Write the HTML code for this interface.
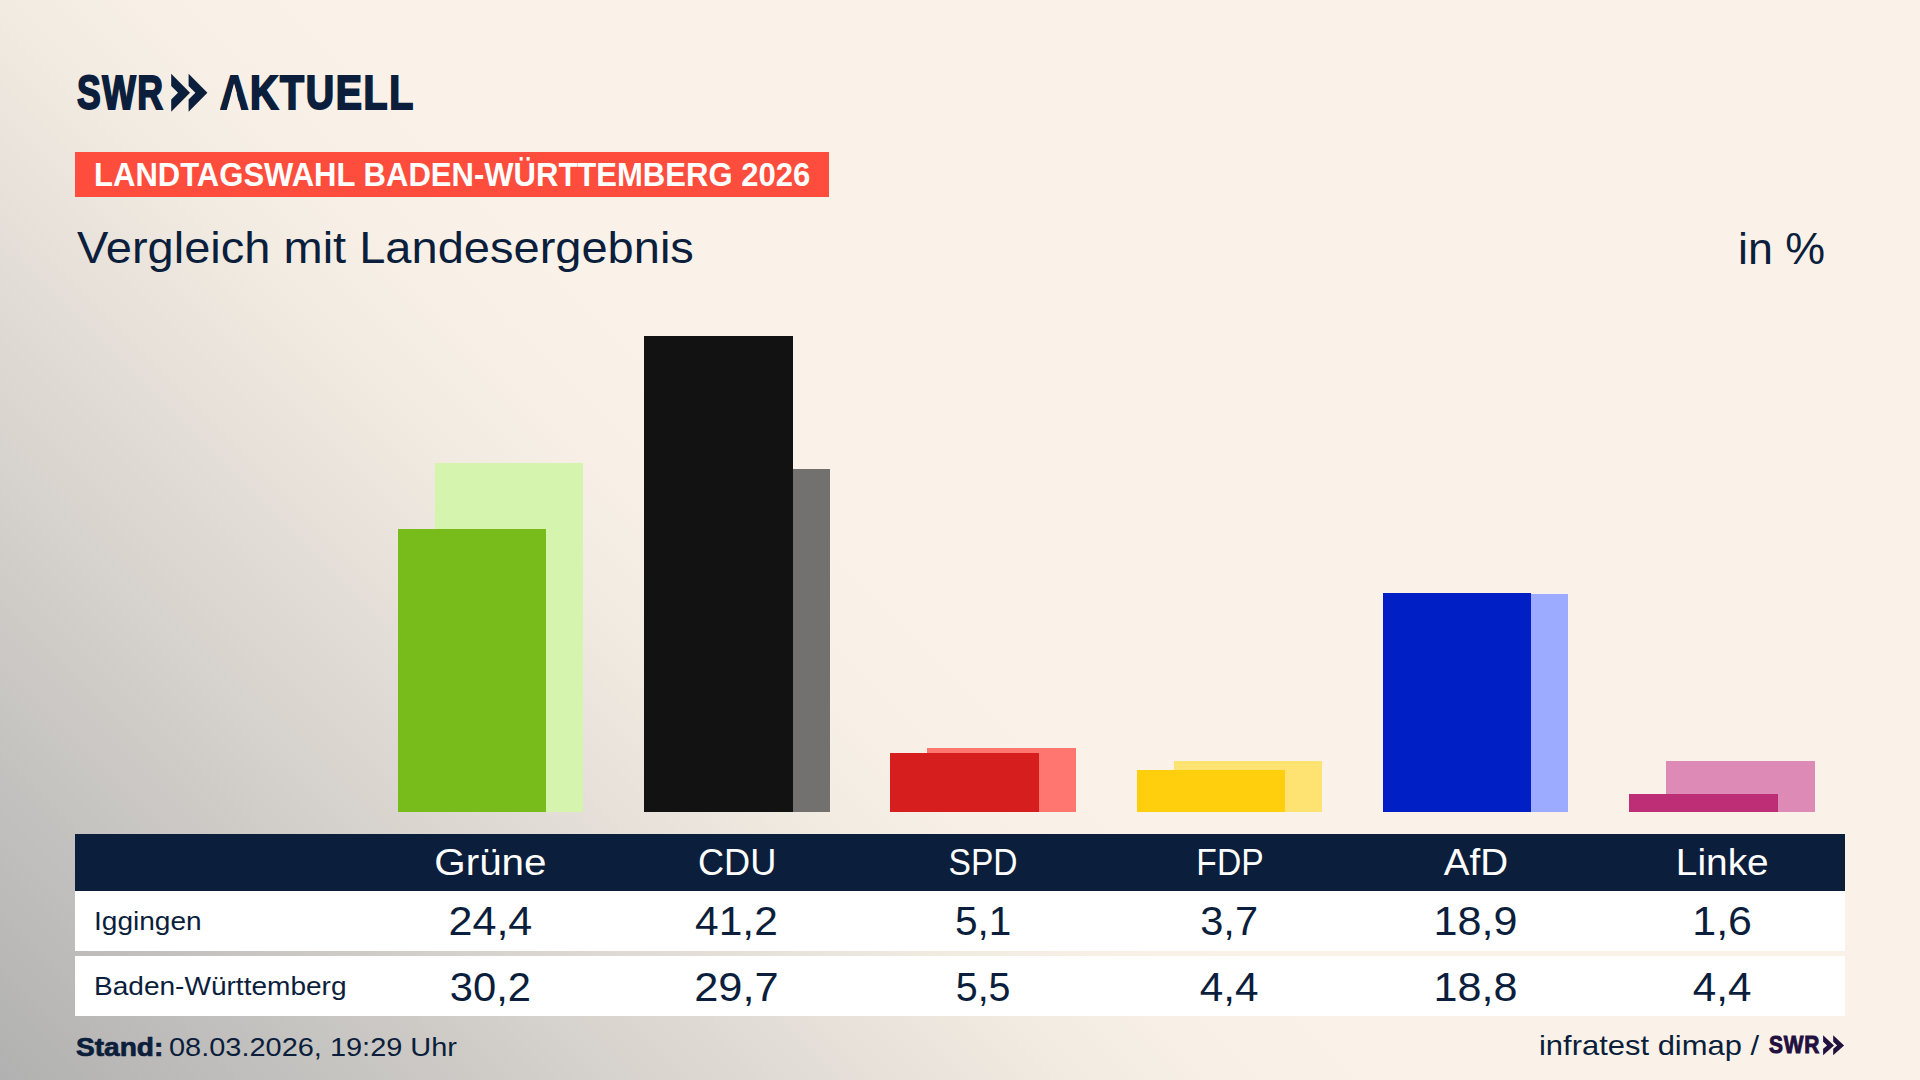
<!DOCTYPE html>
<html lang="de">
<head>
<meta charset="utf-8">
<title>SWR Aktuell – Landtagswahl Baden-Württemberg 2026 – Vergleich mit Landesergebnis</title>
<style>
html,body{margin:0;padding:0;}
body{width:1920px;height:1080px;overflow:hidden;position:relative;
  font-family:"Liberation Sans",sans-serif;color:#0b1e3c;
  background:#faf2e8;}
#bg{position:absolute;left:0;top:0;width:1920px;height:1080px;
  background:linear-gradient(45deg,#b1b1b1 0%,#f2ebe2 36%,#f8f0e6 41%,#faf2e8 46%);}
.t{position:absolute;white-space:nowrap;line-height:1;transform-origin:0 0;margin:0;padding:0;}
.b{position:absolute;}
#badge{position:absolute;left:75px;top:152px;width:754px;height:45px;background:#fe4d3c;}
#thead{position:absolute;left:75px;top:834px;width:1770px;height:57px;background:#0b1e3c;}
#row1{position:absolute;left:75px;top:891px;width:1770px;height:60px;background:#fff;}
#row2{position:absolute;left:75px;top:956px;width:1770px;height:60px;background:#fff;}
.c{position:absolute;width:240px;text-align:center;white-space:nowrap;line-height:1;}
.c span{display:inline-block;transform-origin:50% 0;}
.hd{color:#fff;font-size:37px;}
.num{font-size:40.5px;}
.lab{font-size:25.5px;}
</style>
</head>
<body>
<div id="bg"></div>

<!-- logo -->
<div class="t" id="swr" style="left:77.4px;top:69px;font-size:47.5px;font-weight:bold;-webkit-text-stroke:2px #0b1e3c;letter-spacing:2px;transform:scaleX(.749)">SWR</div>
<svg class="b" id="chev" style="left:171px;top:73px" width="38" height="40" viewBox="171 73 38 40">
  <polygon fill="#0b1e3c" points="171.2,73.7 190,92.8 171.2,111.8 171.2,99.4 178,92.8 171.2,85.9"/>
  <polygon fill="#0b1e3c" points="188.6,73.7 207.4,92.8 188.6,111.8 188.6,99.4 195.4,92.8 188.6,85.9"/>
</svg>
<div class="t" id="akt" style="left:219.9px;top:69px;font-size:47.5px;font-weight:bold;-webkit-text-stroke:2px #0b1e3c;letter-spacing:2px;transform:scaleX(.827)">AKTUELL</div>
<svg class="b" id="amask" style="left:220px;top:80px" width="30" height="34" viewBox="220 80 30 34">
  <polygon fill="#f8f0e6" points="234.04,83.6 241.00,110.8 226.57,110.8"/>
</svg>

<!-- badge -->
<div id="badge"></div>
<div class="t" id="badget" style="left:94.4px;top:158.5px;font-size:32.8px;font-weight:bold;color:#fff;transform:scaleX(.9464)">LANDTAGSWAHL BADEN-WÜRTTEMBERG 2026</div>

<!-- title -->
<div class="t" id="title" style="left:76.8px;top:226.2px;font-size:44px;transform:scaleX(1.0686)">Vergleich mit Landesergebnis</div>
<div class="t" id="unit" style="left:1737.5px;top:226.8px;font-size:44px;transform:scaleX(1.018)">in %</div>

<!-- bars -->
<div id="bars">
  <div class="b" style="left:435px;top:463px;width:148px;height:349px;background:#d5f5ae"></div>
  <div class="b" style="left:398px;top:529px;width:148px;height:283px;background:#78bc1b"></div>

  <div class="b" style="left:681px;top:469px;width:149px;height:343px;background:#737170"></div>
  <div class="b" style="left:644px;top:336px;width:149px;height:476px;background:#121212"></div>

  <div class="b" style="left:927px;top:748px;width:149px;height:64px;background:#ff756f"></div>
  <div class="b" style="left:890px;top:753px;width:149px;height:59px;background:#d71e1e"></div>

  <div class="b" style="left:1174px;top:761px;width:148px;height:51px;background:#fee372"></div>
  <div class="b" style="left:1137px;top:770px;width:148px;height:42px;background:#ffcf0d"></div>

  <div class="b" style="left:1420px;top:594px;width:148px;height:218px;background:#9cabff"></div>
  <div class="b" style="left:1383px;top:593px;width:148px;height:219px;background:#001fc4"></div>

  <div class="b" style="left:1666px;top:761px;width:149px;height:51px;background:#dd8ab6"></div>
  <div class="b" style="left:1629px;top:794px;width:149px;height:18px;background:#bd2e77"></div>
</div>

<!-- table -->
<div id="thead"></div>
<div id="row1"></div>
<div id="row2"></div>

<div class="t lab" id="l1" style="left:93.6px;top:909.1px;transform:scaleX(1.10)">Iggingen</div>
<div class="t lab" id="l2" style="left:94px;top:974.1px;transform:scaleX(1.10)">Baden-Württemberg</div>

<div id="cols">
<div class="c hd" style="left:370.6px;top:843.7px"><span id="h0" style="transform:scaleX(1.0915)">Grüne</span></div>
<div class="c num" style="left:370.6px;top:901.2px"><span id="a0" style="transform:scaleX(1.0632)">24,4</span></div>
<div class="c num" style="left:370.6px;top:966.6px"><span id="b0" style="transform:scaleX(1.0302)">30,2</span></div>
<div class="c hd" style="left:616.9px;top:843.7px"><span id="h1" style="transform:scaleX(0.9780)">CDU</span></div>
<div class="c num" style="left:616.9px;top:901.2px"><span id="a1" style="transform:scaleX(1.0502)">41,2</span></div>
<div class="c num" style="left:616.9px;top:966.6px"><span id="b1" style="transform:scaleX(1.0713)">29,7</span></div>
<div class="c hd" style="left:863.2px;top:843.7px"><span id="h2" style="transform:scaleX(0.9072)">SPD</span></div>
<div class="c num" style="left:863.2px;top:901.2px"><span id="a2" style="transform:scaleX(1.0019)">5,1</span></div>
<div class="c num" style="left:863.2px;top:966.6px"><span id="b2" style="transform:scaleX(0.9722)">5,5</span></div>
<div class="c hd" style="left:1109.5px;top:843.7px"><span id="h3" style="transform:scaleX(0.9090)">FDP</span></div>
<div class="c num" style="left:1109.5px;top:901.2px"><span id="a3" style="transform:scaleX(1.0272)">3,7</span></div>
<div class="c num" style="left:1109.5px;top:966.6px"><span id="b3" style="transform:scaleX(1.0429)">4,4</span></div>
<div class="c hd" style="left:1355.8px;top:843.7px"><span id="h4" style="transform:scaleX(1.0418)">AfD</span></div>
<div class="c num" style="left:1355.8px;top:901.2px"><span id="a4" style="transform:scaleX(1.0646)">18,9</span></div>
<div class="c num" style="left:1355.8px;top:966.6px"><span id="b4" style="transform:scaleX(1.0646)">18,8</span></div>
<div class="c hd" style="left:1602.1px;top:843.7px"><span id="h5" style="transform:scaleX(1.0501)">Linke</span></div>
<div class="c num" style="left:1602.1px;top:901.2px"><span id="a5" style="transform:scaleX(1.0593)">1,6</span></div>
<div class="c num" style="left:1602.1px;top:966.6px"><span id="b5" style="transform:scaleX(1.0411)">4,4</span></div>
</div>

<!-- footer -->
<div class="t" id="standb" style="left:76.4px;top:1033.7px;font-size:26px;font-weight:bold;-webkit-text-stroke:.7px #0b1e3c;transform:scaleX(1.08)">Stand:</div>
<div class="t" id="standt" style="left:169px;top:1033.7px;font-size:26px;transform:scaleX(1.113)">08.03.2026, 19:29 Uhr</div>
<div class="t" id="src" style="left:1539px;top:1031.7px;font-size:28px;transform:scaleX(1.105)">infratest dimap /</div>
<div class="t" id="swr2" style="left:1769.3px;top:1033.3px;font-size:24.6px;font-weight:bold;-webkit-text-stroke:1px #22103f;letter-spacing:1px;transform:scaleX(.85);color:#22103f">SWR</div>
<svg class="b" id="chev2" style="left:1823px;top:1035px" width="22" height="21" viewBox="171 73 38 40" preserveAspectRatio="none">
  <polygon fill="#22103f" points="171.2,73.7 190,92.8 171.2,111.8 171.2,99.4 178,92.8 171.2,85.9"/>
  <polygon fill="#22103f" points="188.6,73.7 207.4,92.8 188.6,111.8 188.6,99.4 195.4,92.8 188.6,85.9"/>
</svg>
</body>
</html>
